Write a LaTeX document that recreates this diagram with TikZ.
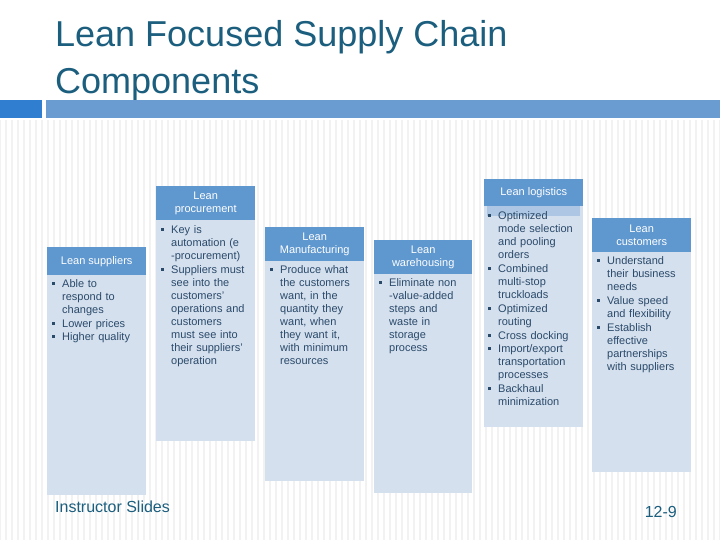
\documentclass[tikz,border=0pt]{standalone}
\usepackage{fontspec}
\setmainfont{Liberation Sans}
\definecolor{hdr}{HTML}{5F97CF}
\definecolor{bod}{HTML}{D5E0EE}
\definecolor{ttl}{HTML}{1B5E7E}
\definecolor{barA}{HTML}{2F7ED0}
\definecolor{barB}{HTML}{6A9BD1}
\definecolor{txt}{HTML}{2A4A6A}
\newcommand{\bit}[1]{\noindent\makebox[10pt][l]{\raisebox{2.5pt}{\rule{2.4pt}{2.4pt}}}\parbox[t]{\dimexpr\linewidth-10pt}{\raggedright\hyphenpenalty=10000\exhyphenpenalty=10000\strut #1\strut}\par}
\tikzset{
 hbox/.style={fill=hdr,anchor=north west,inner sep=0pt,text=white,font=\fontsize{11}{13}\selectfont,align=center},
 bbox/.style={fill=bod,anchor=north west,inner sep=0pt},
 btext/.style={anchor=north west,inner sep=0pt,text=txt,font=\fontsize{11}{13}\selectfont,align=left},
}
\begin{document}
\begin{tikzpicture}[x=1pt,y=-1pt]
\useasboundingbox (0,0) rectangle (720,540);
\fill[white] (0,0) rectangle (720,540);
\foreach \i in {0,6,...,720} \draw[black!5,line width=1.2pt] (\i,120) -- (\i,540);
\node[anchor=north west,inner sep=0pt,text=ttl,font=\fontsize{36}{47}\selectfont,align=left] (title) at (55,20) {Lean Focused Supply Chain\\Components};
\fill[barA] (0,100) rectangle (42,118);
\fill[barB] (46,100) rectangle (720,118);
% columns
\node[bbox,minimum width=99pt,minimum height=220pt] (b1) at (47,275) {};
\node[hbox,minimum width=99pt,minimum height=28pt] (h1) at (47,247) {Lean suppliers};
\node[bbox,minimum width=99pt,minimum height=221pt] (b2) at (156,220) {};
\node[hbox,minimum width=99pt,minimum height=34pt] (h2) at (156,186) {Lean\\procurement};
\node[bbox,minimum width=99pt,minimum height=220pt] (b3) at (265,261) {};
\node[hbox,minimum width=99pt,minimum height=34pt] (h3) at (265,227) {Lean\\Manufacturing};
\node[bbox,minimum width=98pt,minimum height=219pt] (b4) at (374,274) {};
\node[hbox,minimum width=98pt,minimum height=34pt] (h4) at (374,240) {Lean\\warehousing};
\node[bbox,minimum width=99pt,minimum height=221pt] (b5) at (484,206) {};
\fill[hdr!35!bod] (487,206) rectangle (580,216);
\node[hbox,minimum width=99pt,minimum height=27pt] (h5) at (484,179) {Lean logistics};
\node[bbox,minimum width=99pt,minimum height=220pt] (b6) at (592,252) {};
\node[hbox,minimum width=99pt,minimum height=34pt] (h6) at (592,218) {Lean\\customers};
% texts
\node[btext,text width=86pt] (t1) at (52,278) {\bit{Able to respond to changes}\bit{Lower prices}\bit{Higher quality}};
\node[btext,text width=88pt] (t2) at (161,224) {\bit{Key is automation (e -procurement)}\bit{Suppliers must see into the customers' operations and customers must see into their suppliers' operation}};
\node[btext,text width=88pt] (t3) at (270,264) {\bit{Produce what the customers want, in the quantity they want, when they want it, with minimum resources}};
\node[btext,text width=88pt] (t4) at (379,277) {\bit{Eliminate non -value-added steps and waste in storage process}};
\node[btext,text width=90pt] (t5) at (488,210) {\bit{Optimized mode selection and pooling orders}\bit{Combined multi-stop truckloads}\bit{Optimized routing}\bit{Cross docking}\bit{Import/export transportation processes}\bit{Backhaul minimization}};
\node[btext,text width=88pt] (t6) at (597,255) {\bit{Understand their business needs}\bit{Value speed and flexibility}\bit{Establish effective partnerships with suppliers}};
% footer
\node[anchor=west,inner sep=0pt,text=ttl,font=\fontsize{16}{18}\selectfont] (f1) at (55,507) {Instructor Slides};
\node[anchor=east,inner sep=0pt,text=ttl,font=\fontsize{16}{18}\selectfont] (f2) at (677,512) {12-9};
\end{tikzpicture}
\end{document}
